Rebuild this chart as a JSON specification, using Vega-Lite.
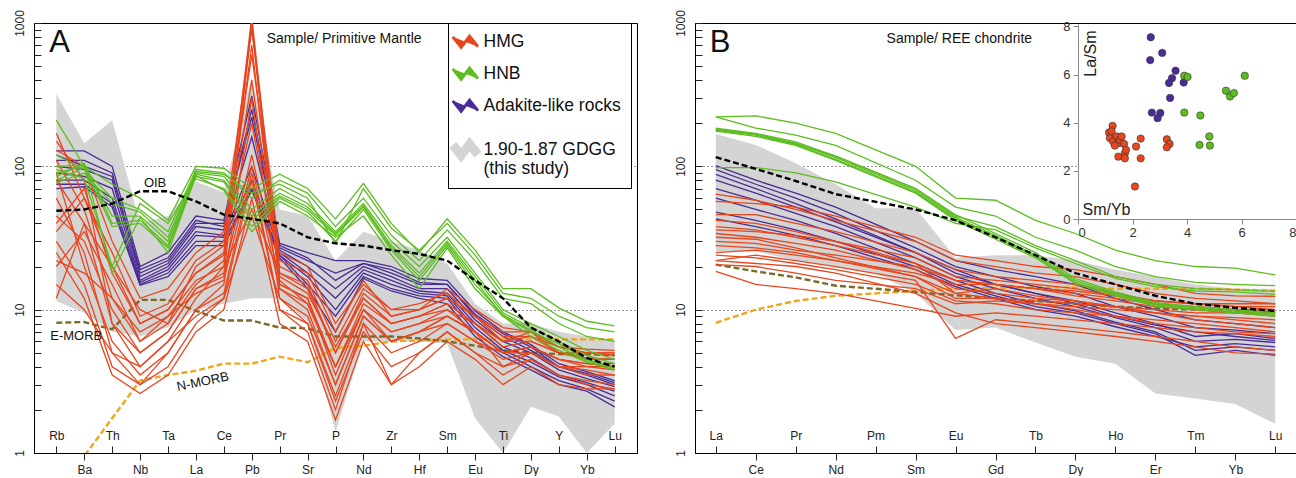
{
"$schema": "https://vega.github.io/schema/vega-lite/v6.json",
"padding": {"left": 12, "top": 9, "right": 0, "bottom": 0},
"background": "white",
"spacing": 35,
"config": {
  "font": "Liberation Sans",
  "view": {"stroke": "black", "strokeWidth": 1},
  "axis": {"labelFont": "Liberation Sans", "labelColor": "#222", "labelFontSize": 12, "domainColor": "black", "tickColor": "#222", "grid": false, "labelFlush": false, "labelOverlap": false}
},
"resolve": {"scale": {"color": "independent"}},
"datasets": {
"aF": [
{"e":"Rb","lo":11.5,"hi":320,"g":"F"},{"e":"Ba","lo":9.5,"hi":145,"g":"F"},{"e":"Th","lo":7,"hi":210,"g":"F"},{"e":"Nb","lo":6.5,"hi":40,"g":"F"},{"e":"Ta","lo":7.5,"hi":45,"g":"F"},{"e":"La","lo":10,"hi":78,"g":"F"},{"e":"Ce","lo":11,"hi":66,"g":"F"},{"e":"Pb","lo":12,"hi":420,"g":"F"},{"e":"Pr","lo":12,"hi":50,"g":"F"},{"e":"Sr","lo":8.3,"hi":45,"g":"F"},{"e":"P","lo":1.4,"hi":22,"g":"F"},{"e":"Nd","lo":6,"hi":35,"g":"F"},{"e":"Zr","lo":6,"hi":30,"g":"F"},{"e":"Hf","lo":6,"hi":26,"g":"F"},{"e":"Sm","lo":5.8,"hi":21,"g":"F"},{"e":"Eu","lo":1.75,"hi":11,"g":"F"},{"e":"Ti","lo":1,"hi":8,"g":"F"},{"e":"Dy","lo":2.1,"hi":8,"g":"F"},{"e":"Y","lo":1.8,"hi":7,"g":"F"},{"e":"Yb","lo":1,"hi":6.5,"g":"F"},{"e":"Lu","lo":1.6,"hi":6.2,"g":"F"}
],
"aO": [{"e":"Rb","v":49},{"e":"Ba","v":50},{"e":"Th","v":55},{"e":"Nb","v":67},{"e":"Ta","v":67},{"e":"La","v":57},{"e":"Ce","v":46},{"e":"Pb","v":43},{"e":"Pr","v":40},{"e":"Sr","v":32},{"e":"P","v":29},{"e":"Nd","v":28},{"e":"Zr","v":26},{"e":"Hf","v":24.5},{"e":"Sm","v":22},{"e":"Eu","v":16},{"e":"Ti","v":12},{"e":"Dy","v":7.5},{"e":"Y","v":6},{"e":"Yb","v":4.6},{"e":"Lu","v":4}],
"aE": [{"e":"Rb","v":8.1},{"e":"Ba","v":8.2},{"e":"Th","v":7.3},{"e":"Nb","v":11.7},{"e":"Ta","v":11.7},{"e":"La","v":9.8},{"e":"Ce","v":8.4},{"e":"Pb","v":8.4},{"e":"Pr","v":7.5},{"e":"Sr","v":7.4},{"e":"P","v":6.5},{"e":"Nd","v":6.5},{"e":"Zr","v":6.5},{"e":"Hf","v":6.3},{"e":"Sm","v":6},{"e":"Eu","v":5.6},{"e":"Ti","v":5.2},{"e":"Dy","v":5},{"e":"Y","v":4.9},{"e":"Yb","v":4.9},{"e":"Lu","v":4.8}],
"aN": [{"e":"Rb","v":0.55},{"e":"Ba","v":0.95},{"e":"Th","v":1.75},{"e":"Nb","v":3.2},{"e":"Ta","v":3.5},{"e":"La","v":3.75},{"e":"Ce","v":4.2},{"e":"Pb","v":4.2},{"e":"Pr","v":4.7},{"e":"Sr","v":4.3},{"e":"P","v":5.4},{"e":"Nd","v":5.6},{"e":"Zr","v":6},{"e":"Hf","v":6.1},{"e":"Sm","v":6.2},{"e":"Eu","v":6.2},{"e":"Ti","v":6.2},{"e":"Dy","v":6.2},{"e":"Y","v":6.2},{"e":"Yb","v":6.2},{"e":"Lu","v":6.2}],
"aS": [
{"s":1,"g":"K","e":"Rb","v":128},{"s":1,"g":"K","e":"Ba","v":128},{"s":1,"g":"K","e":"Th","v":100},{"s":1,"g":"K","e":"Nb","v":20},{"s":1,"g":"K","e":"Ta","v":25},{"s":1,"g":"K","e":"La","v":45},{"s":1,"g":"K","e":"Ce","v":42},{"s":1,"g":"K","e":"Pb","v":310},{"s":1,"g":"K","e":"Pr","v":29},{"s":1,"g":"K","e":"Sr","v":25},{"s":1,"g":"K","e":"P","v":22},{"s":1,"g":"K","e":"Nd","v":22},{"s":1,"g":"K","e":"Zr","v":20},{"s":1,"g":"K","e":"Hf","v":16.5},{"s":1,"g":"K","e":"Sm","v":16},{"s":1,"g":"K","e":"Eu","v":9.8},{"s":1,"g":"K","e":"Ti","v":7},{"s":1,"g":"K","e":"Dy","v":5.7},{"s":1,"g":"K","e":"Y","v":4.2},{"s":1,"g":"K","e":"Yb","v":3.7},{"s":1,"g":"K","e":"Lu","v":3.2},
{"s":2,"g":"K","e":"Rb","v":110},{"s":2,"g":"K","e":"Ba","v":110},{"s":2,"g":"K","e":"Th","v":90},{"s":2,"g":"K","e":"Nb","v":18},{"s":2,"g":"K","e":"Ta","v":22},{"s":2,"g":"K","e":"La","v":40},{"s":2,"g":"K","e":"Ce","v":40},{"s":2,"g":"K","e":"Pb","v":220},{"s":2,"g":"K","e":"Pr","v":27},{"s":2,"g":"K","e":"Sr","v":22},{"s":2,"g":"K","e":"P","v":18},{"s":2,"g":"K","e":"Nd","v":21},{"s":2,"g":"K","e":"Zr","v":18},{"s":2,"g":"K","e":"Hf","v":15},{"s":2,"g":"K","e":"Sm","v":15},{"s":2,"g":"K","e":"Eu","v":9},{"s":2,"g":"K","e":"Ti","v":6.5},{"s":2,"g":"K","e":"Dy","v":5.2},{"s":2,"g":"K","e":"Y","v":4},{"s":2,"g":"K","e":"Yb","v":3.5},{"s":2,"g":"K","e":"Lu","v":3},
{"s":3,"g":"K","e":"Rb","v":100},{"s":3,"g":"K","e":"Ba","v":95},{"s":3,"g":"K","e":"Th","v":80},{"s":3,"g":"K","e":"Nb","v":17},{"s":3,"g":"K","e":"Ta","v":21},{"s":3,"g":"K","e":"La","v":38},{"s":3,"g":"K","e":"Ce","v":36},{"s":3,"g":"K","e":"Pb","v":160},{"s":3,"g":"K","e":"Pr","v":26},{"s":3,"g":"K","e":"Sr","v":20},{"s":3,"g":"K","e":"P","v":14},{"s":3,"g":"K","e":"Nd","v":20},{"s":3,"g":"K","e":"Zr","v":17},{"s":3,"g":"K","e":"Hf","v":14},{"s":3,"g":"K","e":"Sm","v":14},{"s":3,"g":"K","e":"Eu","v":8.5},{"s":3,"g":"K","e":"Ti","v":6},{"s":3,"g":"K","e":"Dy","v":5},{"s":3,"g":"K","e":"Y","v":3.8},{"s":3,"g":"K","e":"Yb","v":3.3},{"s":3,"g":"K","e":"Lu","v":2.9},
{"s":4,"g":"K","e":"Rb","v":90},{"s":4,"g":"K","e":"Ba","v":85},{"s":4,"g":"K","e":"Th","v":70},{"s":4,"g":"K","e":"Nb","v":16},{"s":4,"g":"K","e":"Ta","v":20},{"s":4,"g":"K","e":"La","v":35},{"s":4,"g":"K","e":"Ce","v":33},{"s":4,"g":"K","e":"Pb","v":100},{"s":4,"g":"K","e":"Pr","v":25},{"s":4,"g":"K","e":"Sr","v":18},{"s":4,"g":"K","e":"P","v":12},{"s":4,"g":"K","e":"Nd","v":19},{"s":4,"g":"K","e":"Zr","v":16},{"s":4,"g":"K","e":"Hf","v":13.5},{"s":4,"g":"K","e":"Sm","v":13},{"s":4,"g":"K","e":"Eu","v":8},{"s":4,"g":"K","e":"Ti","v":5.5},{"s":4,"g":"K","e":"Dy","v":4.6},{"s":4,"g":"K","e":"Y","v":3.5},{"s":4,"g":"K","e":"Yb","v":3.1},{"s":4,"g":"K","e":"Lu","v":2.7},
{"s":5,"g":"K","e":"Rb","v":80},{"s":5,"g":"K","e":"Ba","v":80},{"s":5,"g":"K","e":"Th","v":60},{"s":5,"g":"K","e":"Nb","v":15.5},{"s":5,"g":"K","e":"Ta","v":19},{"s":5,"g":"K","e":"La","v":33},{"s":5,"g":"K","e":"Ce","v":32},{"s":5,"g":"K","e":"Pb","v":80},{"s":5,"g":"K","e":"Pr","v":24},{"s":5,"g":"K","e":"Sr","v":17},{"s":5,"g":"K","e":"P","v":10},{"s":5,"g":"K","e":"Nd","v":18},{"s":5,"g":"K","e":"Zr","v":15},{"s":5,"g":"K","e":"Hf","v":13},{"s":5,"g":"K","e":"Sm","v":12.5},{"s":5,"g":"K","e":"Eu","v":7.5},{"s":5,"g":"K","e":"Ti","v":5.2},{"s":5,"g":"K","e":"Dy","v":4.3},{"s":5,"g":"K","e":"Y","v":3.4},{"s":5,"g":"K","e":"Yb","v":3},{"s":5,"g":"K","e":"Lu","v":2.5},
{"s":6,"g":"K","e":"Rb","v":75},{"s":6,"g":"K","e":"Ba","v":75},{"s":6,"g":"K","e":"Th","v":55},{"s":6,"g":"K","e":"Nb","v":15},{"s":6,"g":"K","e":"Ta","v":18},{"s":6,"g":"K","e":"La","v":30},{"s":6,"g":"K","e":"Ce","v":30},{"s":6,"g":"K","e":"Pb","v":70},{"s":6,"g":"K","e":"Pr","v":24},{"s":6,"g":"K","e":"Sr","v":15},{"s":6,"g":"K","e":"P","v":9},{"s":6,"g":"K","e":"Nd","v":17},{"s":6,"g":"K","e":"Zr","v":14},{"s":6,"g":"K","e":"Hf","v":12.5},{"s":6,"g":"K","e":"Sm","v":12},{"s":6,"g":"K","e":"Eu","v":7},{"s":6,"g":"K","e":"Ti","v":5},{"s":6,"g":"K","e":"Dy","v":4},{"s":6,"g":"K","e":"Y","v":3.2},{"s":6,"g":"K","e":"Yb","v":2.8},{"s":6,"g":"K","e":"Lu","v":2.3},
{"s":7,"g":"K","e":"Rb","v":70},{"s":7,"g":"K","e":"Ba","v":72},{"s":7,"g":"K","e":"Th","v":52},{"s":7,"g":"K","e":"Nb","v":14.8},{"s":7,"g":"K","e":"Ta","v":17},{"s":7,"g":"K","e":"La","v":28},{"s":7,"g":"K","e":"Ce","v":28},{"s":7,"g":"K","e":"Pb","v":68},{"s":7,"g":"K","e":"Pr","v":23},{"s":7,"g":"K","e":"Sr","v":14},{"s":7,"g":"K","e":"P","v":7},{"s":7,"g":"K","e":"Nd","v":16.5},{"s":7,"g":"K","e":"Zr","v":13.5},{"s":7,"g":"K","e":"Hf","v":12},{"s":7,"g":"K","e":"Sm","v":11},{"s":7,"g":"K","e":"Eu","v":6.5},{"s":7,"g":"K","e":"Ti","v":4.7},{"s":7,"g":"K","e":"Dy","v":3.8},{"s":7,"g":"K","e":"Y","v":3},{"s":7,"g":"K","e":"Yb","v":2.7},{"s":7,"g":"K","e":"Lu","v":2.1},
{"s":8,"g":"K","e":"Rb","v":120},{"s":8,"g":"K","e":"Ba","v":100},{"s":8,"g":"K","e":"Th","v":85},{"s":8,"g":"K","e":"Nb","v":19},{"s":8,"g":"K","e":"Ta","v":23},{"s":8,"g":"K","e":"La","v":42},{"s":8,"g":"K","e":"Ce","v":38},{"s":8,"g":"K","e":"Pb","v":250},{"s":8,"g":"K","e":"Pr","v":28},{"s":8,"g":"K","e":"Sr","v":23},{"s":8,"g":"K","e":"P","v":16},{"s":8,"g":"K","e":"Nd","v":21},{"s":8,"g":"K","e":"Zr","v":19},{"s":8,"g":"K","e":"Hf","v":15.5},{"s":8,"g":"K","e":"Sm","v":15},{"s":8,"g":"K","e":"Eu","v":9.3},{"s":8,"g":"K","e":"Ti","v":6.8},{"s":8,"g":"K","e":"Dy","v":5.5},{"s":8,"g":"K","e":"Y","v":4},{"s":8,"g":"K","e":"Yb","v":3.6},{"s":8,"g":"K","e":"Lu","v":3.1},
{"s":9,"g":"M","e":"Rb","v":170},{"s":9,"g":"M","e":"Ba","v":60},{"s":9,"g":"M","e":"Th","v":20},{"s":9,"g":"M","e":"Nb","v":8},{"s":9,"g":"M","e":"Ta","v":10},{"s":9,"g":"M","e":"La","v":18},{"s":9,"g":"M","e":"Ce","v":25},{"s":9,"g":"M","e":"Pb","v":1100},{"s":9,"g":"M","e":"Pr","v":18},{"s":9,"g":"M","e":"Sr","v":15},{"s":9,"g":"M","e":"P","v":5},{"s":9,"g":"M","e":"Nd","v":12},{"s":9,"g":"M","e":"Zr","v":8},{"s":9,"g":"M","e":"Hf","v":9},{"s":9,"g":"M","e":"Sm","v":10},{"s":9,"g":"M","e":"Eu","v":8},{"s":9,"g":"M","e":"Ti","v":6},{"s":9,"g":"M","e":"Dy","v":6},{"s":9,"g":"M","e":"Y","v":5},{"s":9,"g":"M","e":"Yb","v":5},{"s":9,"g":"M","e":"Lu","v":5},
{"s":10,"g":"M","e":"Rb","v":130},{"s":10,"g":"M","e":"Ba","v":100},{"s":10,"g":"M","e":"Th","v":30},{"s":10,"g":"M","e":"Nb","v":12},{"s":10,"g":"M","e":"Ta","v":14},{"s":10,"g":"M","e":"La","v":25},{"s":10,"g":"M","e":"Ce","v":35},{"s":10,"g":"M","e":"Pb","v":900},{"s":10,"g":"M","e":"Pr","v":25},{"s":10,"g":"M","e":"Sr","v":20},{"s":10,"g":"M","e":"P","v":8},{"s":10,"g":"M","e":"Nd","v":15},{"s":10,"g":"M","e":"Zr","v":10},{"s":10,"g":"M","e":"Hf","v":10},{"s":10,"g":"M","e":"Sm","v":12},{"s":10,"g":"M","e":"Eu","v":9},{"s":10,"g":"M","e":"Ti","v":7},{"s":10,"g":"M","e":"Dy","v":7},{"s":10,"g":"M","e":"Y","v":5.5},{"s":10,"g":"M","e":"Yb","v":5},{"s":10,"g":"M","e":"Lu","v":4.8},
{"s":11,"g":"M","e":"Rb","v":110},{"s":11,"g":"M","e":"Ba","v":50},{"s":11,"g":"M","e":"Th","v":12},{"s":11,"g":"M","e":"Nb","v":6},{"s":11,"g":"M","e":"Ta","v":8},{"s":11,"g":"M","e":"La","v":15},{"s":11,"g":"M","e":"Ce","v":22},{"s":11,"g":"M","e":"Pb","v":700},{"s":11,"g":"M","e":"Pr","v":15},{"s":11,"g":"M","e":"Sr","v":12},{"s":11,"g":"M","e":"P","v":4},{"s":11,"g":"M","e":"Nd","v":10},{"s":11,"g":"M","e":"Zr","v":7},{"s":11,"g":"M","e":"Hf","v":8},{"s":11,"g":"M","e":"Sm","v":9},{"s":11,"g":"M","e":"Eu","v":7},{"s":11,"g":"M","e":"Ti","v":5},{"s":11,"g":"M","e":"Dy","v":5.5},{"s":11,"g":"M","e":"Y","v":4.5},{"s":11,"g":"M","e":"Yb","v":4.2},{"s":11,"g":"M","e":"Lu","v":4.2},
{"s":12,"g":"M","e":"Rb","v":80},{"s":12,"g":"M","e":"Ba","v":40},{"s":12,"g":"M","e":"Th","v":8},{"s":12,"g":"M","e":"Nb","v":4},{"s":12,"g":"M","e":"Ta","v":6},{"s":12,"g":"M","e":"La","v":12},{"s":12,"g":"M","e":"Ce","v":20},{"s":12,"g":"M","e":"Pb","v":1000},{"s":12,"g":"M","e":"Pr","v":14},{"s":12,"g":"M","e":"Sr","v":10},{"s":12,"g":"M","e":"P","v":3},{"s":12,"g":"M","e":"Nd","v":9},{"s":12,"g":"M","e":"Zr","v":6},{"s":12,"g":"M","e":"Hf","v":7},{"s":12,"g":"M","e":"Sm","v":8},{"s":12,"g":"M","e":"Eu","v":6},{"s":12,"g":"M","e":"Ti","v":5},{"s":12,"g":"M","e":"Dy","v":5},{"s":12,"g":"M","e":"Y","v":4},{"s":12,"g":"M","e":"Yb","v":4},{"s":12,"g":"M","e":"Lu","v":3.8},
{"s":13,"g":"M","e":"Rb","v":60},{"s":13,"g":"M","e":"Ba","v":25},{"s":13,"g":"M","e":"Th","v":5},{"s":13,"g":"M","e":"Nb","v":3},{"s":13,"g":"M","e":"Ta","v":5},{"s":13,"g":"M","e":"La","v":10},{"s":13,"g":"M","e":"Ce","v":15},{"s":13,"g":"M","e":"Pb","v":300},{"s":13,"g":"M","e":"Pr","v":12},{"s":13,"g":"M","e":"Sr","v":8},{"s":13,"g":"M","e":"P","v":2.5},{"s":13,"g":"M","e":"Nd","v":8},{"s":13,"g":"M","e":"Zr","v":5},{"s":13,"g":"M","e":"Hf","v":6},{"s":13,"g":"M","e":"Sm","v":8},{"s":13,"g":"M","e":"Eu","v":6},{"s":13,"g":"M","e":"Ti","v":4.5},{"s":13,"g":"M","e":"Dy","v":5},{"s":13,"g":"M","e":"Y","v":4},{"s":13,"g":"M","e":"Yb","v":3.8},{"s":13,"g":"M","e":"Lu","v":3.5},
{"s":14,"g":"M","e":"Rb","v":45},{"s":14,"g":"M","e":"Ba","v":30},{"s":14,"g":"M","e":"Th","v":10},{"s":14,"g":"M","e":"Nb","v":5},{"s":14,"g":"M","e":"Ta","v":7},{"s":14,"g":"M","e":"La","v":14},{"s":14,"g":"M","e":"Ce","v":18},{"s":14,"g":"M","e":"Pb","v":120},{"s":14,"g":"M","e":"Pr","v":16},{"s":14,"g":"M","e":"Sr","v":11},{"s":14,"g":"M","e":"P","v":4},{"s":14,"g":"M","e":"Nd","v":11},{"s":14,"g":"M","e":"Zr","v":8},{"s":14,"g":"M","e":"Hf","v":9},{"s":14,"g":"M","e":"Sm","v":11},{"s":14,"g":"M","e":"Eu","v":8},{"s":14,"g":"M","e":"Ti","v":5.5},{"s":14,"g":"M","e":"Dy","v":6},{"s":14,"g":"M","e":"Y","v":5},{"s":14,"g":"M","e":"Yb","v":4.5},{"s":14,"g":"M","e":"Lu","v":4.5},
{"s":15,"g":"M","e":"Rb","v":30},{"s":15,"g":"M","e":"Ba","v":15},{"s":15,"g":"M","e":"Th","v":4},{"s":15,"g":"M","e":"Nb","v":3},{"s":15,"g":"M","e":"Ta","v":4},{"s":15,"g":"M","e":"La","v":8},{"s":15,"g":"M","e":"Ce","v":12},{"s":15,"g":"M","e":"Pb","v":80},{"s":15,"g":"M","e":"Pr","v":10},{"s":15,"g":"M","e":"Sr","v":8},{"s":15,"g":"M","e":"P","v":2.3},{"s":15,"g":"M","e":"Nd","v":7},{"s":15,"g":"M","e":"Zr","v":4},{"s":15,"g":"M","e":"Hf","v":5},{"s":15,"g":"M","e":"Sm","v":7},{"s":15,"g":"M","e":"Eu","v":5},{"s":15,"g":"M","e":"Ti","v":4},{"s":15,"g":"M","e":"Dy","v":4.5},{"s":15,"g":"M","e":"Y","v":3.5},{"s":15,"g":"M","e":"Yb","v":3.2},{"s":15,"g":"M","e":"Lu","v":3},
{"s":16,"g":"M","e":"Rb","v":25},{"s":16,"g":"M","e":"Ba","v":12},{"s":16,"g":"M","e":"Th","v":3.5},{"s":16,"g":"M","e":"Nb","v":2.6},{"s":16,"g":"M","e":"Ta","v":3.5},{"s":16,"g":"M","e":"La","v":7},{"s":16,"g":"M","e":"Ce","v":10},{"s":16,"g":"M","e":"Pb","v":60},{"s":16,"g":"M","e":"Pr","v":8},{"s":16,"g":"M","e":"Sr","v":6},{"s":16,"g":"M","e":"P","v":1.7},{"s":16,"g":"M","e":"Nd","v":6},{"s":16,"g":"M","e":"Zr","v":3},{"s":16,"g":"M","e":"Hf","v":4},{"s":16,"g":"M","e":"Sm","v":6},{"s":16,"g":"M","e":"Eu","v":4.5},{"s":16,"g":"M","e":"Ti","v":3},{"s":16,"g":"M","e":"Dy","v":4},{"s":16,"g":"M","e":"Y","v":3},{"s":16,"g":"M","e":"Yb","v":2.8},{"s":16,"g":"M","e":"Lu","v":2.8},
{"s":17,"g":"M","e":"Rb","v":20},{"s":17,"g":"M","e":"Ba","v":35},{"s":17,"g":"M","e":"Th","v":15},{"s":17,"g":"M","e":"Nb","v":6},{"s":17,"g":"M","e":"Ta","v":9},{"s":17,"g":"M","e":"La","v":16},{"s":17,"g":"M","e":"Ce","v":20},{"s":17,"g":"M","e":"Pb","v":50},{"s":17,"g":"M","e":"Pr","v":18},{"s":17,"g":"M","e":"Sr","v":14},{"s":17,"g":"M","e":"P","v":5},{"s":17,"g":"M","e":"Nd","v":13},{"s":17,"g":"M","e":"Zr","v":9},{"s":17,"g":"M","e":"Hf","v":10},{"s":17,"g":"M","e":"Sm","v":12},{"s":17,"g":"M","e":"Eu","v":9},{"s":17,"g":"M","e":"Ti","v":6},{"s":17,"g":"M","e":"Dy","v":7},{"s":17,"g":"M","e":"Y","v":5},{"s":17,"g":"M","e":"Yb","v":5},{"s":17,"g":"M","e":"Lu","v":4.8},
{"s":18,"g":"M","e":"Rb","v":15},{"s":18,"g":"M","e":"Ba","v":10},{"s":18,"g":"M","e":"Th","v":5},{"s":18,"g":"M","e":"Nb","v":4},{"s":18,"g":"M","e":"Ta","v":6},{"s":18,"g":"M","e":"La","v":9},{"s":18,"g":"M","e":"Ce","v":12},{"s":18,"g":"M","e":"Pb","v":45},{"s":18,"g":"M","e":"Pr","v":12},{"s":18,"g":"M","e":"Sr","v":9},{"s":18,"g":"M","e":"P","v":3},{"s":18,"g":"M","e":"Nd","v":9},{"s":18,"g":"M","e":"Zr","v":6},{"s":18,"g":"M","e":"Hf","v":7},{"s":18,"g":"M","e":"Sm","v":9},{"s":18,"g":"M","e":"Eu","v":7},{"s":18,"g":"M","e":"Ti","v":5},{"s":18,"g":"M","e":"Dy","v":5.5},{"s":18,"g":"M","e":"Y","v":4.5},{"s":18,"g":"M","e":"Yb","v":4.2},{"s":18,"g":"M","e":"Lu","v":4},
{"s":19,"g":"M","e":"Rb","v":12},{"s":19,"g":"M","e":"Ba","v":40},{"s":19,"g":"M","e":"Th","v":20},{"s":19,"g":"M","e":"Nb","v":10},{"s":19,"g":"M","e":"Ta","v":8},{"s":19,"g":"M","e":"La","v":20},{"s":19,"g":"M","e":"Ce","v":28},{"s":19,"g":"M","e":"Pb","v":200},{"s":19,"g":"M","e":"Pr","v":20},{"s":19,"g":"M","e":"Sr","v":16},{"s":19,"g":"M","e":"P","v":6},{"s":19,"g":"M","e":"Nd","v":14},{"s":19,"g":"M","e":"Zr","v":10},{"s":19,"g":"M","e":"Hf","v":11},{"s":19,"g":"M","e":"Sm","v":13},{"s":19,"g":"M","e":"Eu","v":9},{"s":19,"g":"M","e":"Ti","v":6.5},{"s":19,"g":"M","e":"Dy","v":6.5},{"s":19,"g":"M","e":"Y","v":5.5},{"s":19,"g":"M","e":"Yb","v":5},{"s":19,"g":"M","e":"Lu","v":5},
{"s":20,"g":"M","e":"Rb","v":35},{"s":20,"g":"M","e":"Ba","v":60},{"s":20,"g":"M","e":"Th","v":25},{"s":20,"g":"M","e":"Nb","v":9},{"s":20,"g":"M","e":"Ta","v":11},{"s":20,"g":"M","e":"La","v":22},{"s":20,"g":"M","e":"Ce","v":30},{"s":20,"g":"M","e":"Pb","v":600},{"s":20,"g":"M","e":"Pr","v":22},{"s":20,"g":"M","e":"Sr","v":18},{"s":20,"g":"M","e":"P","v":7},{"s":20,"g":"M","e":"Nd","v":16},{"s":20,"g":"M","e":"Zr","v":9},{"s":20,"g":"M","e":"Hf","v":10},{"s":20,"g":"M","e":"Sm","v":14},{"s":20,"g":"M","e":"Eu","v":10},{"s":20,"g":"M","e":"Ti","v":7.5},{"s":20,"g":"M","e":"Dy","v":7},{"s":20,"g":"M","e":"Y","v":5.5},{"s":20,"g":"M","e":"Yb","v":5.3},{"s":20,"g":"M","e":"Lu","v":5.2},
{"s":21,"g":"M","e":"Rb","v":90},{"s":21,"g":"M","e":"Ba","v":20},{"s":21,"g":"M","e":"Th","v":6},{"s":21,"g":"M","e":"Nb","v":3.5},{"s":21,"g":"M","e":"Ta","v":5},{"s":21,"g":"M","e":"La","v":10},{"s":21,"g":"M","e":"Ce","v":13},{"s":21,"g":"M","e":"Pb","v":90},{"s":21,"g":"M","e":"Pr","v":10},{"s":21,"g":"M","e":"Sr","v":7},{"s":21,"g":"M","e":"P","v":2},{"s":21,"g":"M","e":"Nd","v":8},{"s":21,"g":"M","e":"Zr","v":3},{"s":21,"g":"M","e":"Hf","v":5},{"s":21,"g":"M","e":"Sm","v":7},{"s":21,"g":"M","e":"Eu","v":5},{"s":21,"g":"M","e":"Ti","v":3.5},{"s":21,"g":"M","e":"Dy","v":4.5},{"s":21,"g":"M","e":"Y","v":3.5},{"s":21,"g":"M","e":"Yb","v":3},{"s":21,"g":"M","e":"Lu","v":2.8},
{"s":22,"g":"M","e":"Rb","v":150},{"s":22,"g":"M","e":"Ba","v":80},{"s":22,"g":"M","e":"Th","v":8},{"s":22,"g":"M","e":"Nb","v":5},{"s":22,"g":"M","e":"Ta","v":7},{"s":22,"g":"M","e":"La","v":14},{"s":22,"g":"M","e":"Ce","v":17},{"s":22,"g":"M","e":"Pb","v":1000},{"s":22,"g":"M","e":"Pr","v":15},{"s":22,"g":"M","e":"Sr","v":12},{"s":22,"g":"M","e":"P","v":3.5},{"s":22,"g":"M","e":"Nd","v":10},{"s":22,"g":"M","e":"Zr","v":6},{"s":22,"g":"M","e":"Hf","v":7},{"s":22,"g":"M","e":"Sm","v":9},{"s":22,"g":"M","e":"Eu","v":7},{"s":22,"g":"M","e":"Ti","v":4},{"s":22,"g":"M","e":"Dy","v":5},{"s":22,"g":"M","e":"Y","v":4},{"s":22,"g":"M","e":"Yb","v":3.5},{"s":22,"g":"M","e":"Lu","v":3.5},
{"s":23,"g":"M","e":"Rb","v":22},{"s":23,"g":"M","e":"Ba","v":18},{"s":23,"g":"M","e":"Th","v":12},{"s":23,"g":"M","e":"Nb","v":7},{"s":23,"g":"M","e":"Ta","v":9},{"s":23,"g":"M","e":"La","v":13},{"s":23,"g":"M","e":"Ce","v":16},{"s":23,"g":"M","e":"Pb","v":100},{"s":23,"g":"M","e":"Pr","v":14},{"s":23,"g":"M","e":"Sr","v":11},{"s":23,"g":"M","e":"P","v":4},{"s":23,"g":"M","e":"Nd","v":10},{"s":23,"g":"M","e":"Zr","v":7},{"s":23,"g":"M","e":"Hf","v":8},{"s":23,"g":"M","e":"Sm","v":10},{"s":23,"g":"M","e":"Eu","v":7},{"s":23,"g":"M","e":"Ti","v":5},{"s":23,"g":"M","e":"Dy","v":5.5},{"s":23,"g":"M","e":"Y","v":4.5},{"s":23,"g":"M","e":"Yb","v":4},{"s":23,"g":"M","e":"Lu","v":4},
{"s":24,"g":"M","e":"Rb","v":40},{"s":24,"g":"M","e":"Ba","v":70},{"s":24,"g":"M","e":"Th","v":18},{"s":24,"g":"M","e":"Nb","v":8},{"s":24,"g":"M","e":"Ta","v":10},{"s":24,"g":"M","e":"La","v":18},{"s":24,"g":"M","e":"Ce","v":24},{"s":24,"g":"M","e":"Pb","v":400},{"s":24,"g":"M","e":"Pr","v":17},{"s":24,"g":"M","e":"Sr","v":13},{"s":24,"g":"M","e":"P","v":5.5},{"s":24,"g":"M","e":"Nd","v":12},{"s":24,"g":"M","e":"Zr","v":8},{"s":24,"g":"M","e":"Hf","v":9},{"s":24,"g":"M","e":"Sm","v":11},{"s":24,"g":"M","e":"Eu","v":8},{"s":24,"g":"M","e":"Ti","v":6},{"s":24,"g":"M","e":"Dy","v":6.5},{"s":24,"g":"M","e":"Y","v":5},{"s":24,"g":"M","e":"Yb","v":4.6},{"s":24,"g":"M","e":"Lu","v":4.5},
{"s":25,"g":"N","e":"Rb","v":210},{"s":25,"g":"N","e":"Ba","v":100},{"s":25,"g":"N","e":"Th","v":75},{"s":25,"g":"N","e":"Nb","v":60},{"s":25,"g":"N","e":"Ta","v":42},{"s":25,"g":"N","e":"La","v":100},{"s":25,"g":"N","e":"Ce","v":97},{"s":25,"g":"N","e":"Pb","v":70},{"s":25,"g":"N","e":"Pr","v":88},{"s":25,"g":"N","e":"Sr","v":70},{"s":25,"g":"N","e":"P","v":43},{"s":25,"g":"N","e":"Nd","v":76},{"s":25,"g":"N","e":"Zr","v":40},{"s":25,"g":"N","e":"Hf","v":25},{"s":25,"g":"N","e":"Sm","v":43},{"s":25,"g":"N","e":"Eu","v":26},{"s":25,"g":"N","e":"Ti","v":14},{"s":25,"g":"N","e":"Dy","v":14},{"s":25,"g":"N","e":"Y","v":10.3},{"s":25,"g":"N","e":"Yb","v":8.3},{"s":25,"g":"N","e":"Lu","v":7.7},
{"s":26,"g":"N","e":"Rb","v":120},{"s":26,"g":"N","e":"Ba","v":95},{"s":26,"g":"N","e":"Th","v":60},{"s":26,"g":"N","e":"Nb","v":50},{"s":26,"g":"N","e":"Ta","v":35},{"s":26,"g":"N","e":"La","v":95},{"s":26,"g":"N","e":"Ce","v":90},{"s":26,"g":"N","e":"Pb","v":60},{"s":26,"g":"N","e":"Pr","v":80},{"s":26,"g":"N","e":"Sr","v":65},{"s":26,"g":"N","e":"P","v":38},{"s":26,"g":"N","e":"Nd","v":60},{"s":26,"g":"N","e":"Zr","v":33},{"s":26,"g":"N","e":"Hf","v":22},{"s":26,"g":"N","e":"Sm","v":36},{"s":26,"g":"N","e":"Eu","v":22},{"s":26,"g":"N","e":"Ti","v":12},{"s":26,"g":"N","e":"Dy","v":11},{"s":26,"g":"N","e":"Y","v":8},{"s":26,"g":"N","e":"Yb","v":6.5},{"s":26,"g":"N","e":"Lu","v":6},
{"s":27,"g":"N","e":"Rb","v":90},{"s":27,"g":"N","e":"Ba","v":100},{"s":27,"g":"N","e":"Th","v":45},{"s":27,"g":"N","e":"Nb","v":45},{"s":27,"g":"N","e":"Ta","v":30},{"s":27,"g":"N","e":"La","v":90},{"s":27,"g":"N","e":"Ce","v":85},{"s":27,"g":"N","e":"Pb","v":50},{"s":27,"g":"N","e":"Pr","v":70},{"s":27,"g":"N","e":"Sr","v":55},{"s":27,"g":"N","e":"P","v":35},{"s":27,"g":"N","e":"Nd","v":55},{"s":27,"g":"N","e":"Zr","v":30},{"s":27,"g":"N","e":"Hf","v":20},{"s":27,"g":"N","e":"Sm","v":32},{"s":27,"g":"N","e":"Eu","v":18},{"s":27,"g":"N","e":"Ti","v":10},{"s":27,"g":"N","e":"Dy","v":8},{"s":27,"g":"N","e":"Y","v":6.5},{"s":27,"g":"N","e":"Yb","v":5.2},{"s":27,"g":"N","e":"Lu","v":4.5},
{"s":28,"g":"N","e":"Rb","v":85},{"s":28,"g":"N","e":"Ba","v":105},{"s":28,"g":"N","e":"Th","v":40},{"s":28,"g":"N","e":"Nb","v":42},{"s":28,"g":"N","e":"Ta","v":28},{"s":28,"g":"N","e":"La","v":88},{"s":28,"g":"N","e":"Ce","v":80},{"s":28,"g":"N","e":"Pb","v":45},{"s":28,"g":"N","e":"Pr","v":65},{"s":28,"g":"N","e":"Sr","v":52},{"s":28,"g":"N","e":"P","v":34},{"s":28,"g":"N","e":"Nd","v":53},{"s":28,"g":"N","e":"Zr","v":28},{"s":28,"g":"N","e":"Hf","v":18},{"s":28,"g":"N","e":"Sm","v":30},{"s":28,"g":"N","e":"Eu","v":17},{"s":28,"g":"N","e":"Ti","v":9.5},{"s":28,"g":"N","e":"Dy","v":7.5},{"s":28,"g":"N","e":"Y","v":6},{"s":28,"g":"N","e":"Yb","v":4.8},{"s":28,"g":"N","e":"Lu","v":4.2},
{"s":29,"g":"N","e":"Rb","v":80},{"s":29,"g":"N","e":"Ba","v":98},{"s":29,"g":"N","e":"Th","v":38},{"s":29,"g":"N","e":"Nb","v":40},{"s":29,"g":"N","e":"Ta","v":27},{"s":29,"g":"N","e":"La","v":85},{"s":29,"g":"N","e":"Ce","v":78},{"s":29,"g":"N","e":"Pb","v":42},{"s":29,"g":"N","e":"Pr","v":62},{"s":29,"g":"N","e":"Sr","v":50},{"s":29,"g":"N","e":"P","v":33},{"s":29,"g":"N","e":"Nd","v":52},{"s":29,"g":"N","e":"Zr","v":27},{"s":29,"g":"N","e":"Hf","v":17},{"s":29,"g":"N","e":"Sm","v":29},{"s":29,"g":"N","e":"Eu","v":16},{"s":29,"g":"N","e":"Ti","v":9},{"s":29,"g":"N","e":"Dy","v":7},{"s":29,"g":"N","e":"Y","v":5.8},{"s":29,"g":"N","e":"Yb","v":4.5},{"s":29,"g":"N","e":"Lu","v":4},
{"s":30,"g":"N","e":"Rb","v":95},{"s":30,"g":"N","e":"Ba","v":82},{"s":30,"g":"N","e":"Th","v":20},{"s":30,"g":"N","e":"Nb","v":55},{"s":30,"g":"N","e":"Ta","v":40},{"s":30,"g":"N","e":"La","v":82},{"s":30,"g":"N","e":"Ce","v":70},{"s":30,"g":"N","e":"Pb","v":38},{"s":30,"g":"N","e":"Pr","v":60},{"s":30,"g":"N","e":"Sr","v":48},{"s":30,"g":"N","e":"P","v":30},{"s":30,"g":"N","e":"Nd","v":50},{"s":30,"g":"N","e":"Zr","v":26},{"s":30,"g":"N","e":"Hf","v":16},{"s":30,"g":"N","e":"Sm","v":28},{"s":30,"g":"N","e":"Eu","v":15},{"s":30,"g":"N","e":"Ti","v":9.2},{"s":30,"g":"N","e":"Dy","v":7.2},{"s":30,"g":"N","e":"Y","v":5.5},{"s":30,"g":"N","e":"Yb","v":4.4},{"s":30,"g":"N","e":"Lu","v":3.9},
{"s":31,"g":"N","e":"Rb","v":77},{"s":31,"g":"N","e":"Ba","v":90},{"s":31,"g":"N","e":"Th","v":55},{"s":31,"g":"N","e":"Nb","v":48},{"s":31,"g":"N","e":"Ta","v":32},{"s":31,"g":"N","e":"La","v":92},{"s":31,"g":"N","e":"Ce","v":88},{"s":31,"g":"N","e":"Pb","v":65},{"s":31,"g":"N","e":"Pr","v":75},{"s":31,"g":"N","e":"Sr","v":60},{"s":31,"g":"N","e":"P","v":29},{"s":31,"g":"N","e":"Nd","v":70},{"s":31,"g":"N","e":"Zr","v":37},{"s":31,"g":"N","e":"Hf","v":26},{"s":31,"g":"N","e":"Sm","v":40},{"s":31,"g":"N","e":"Eu","v":24},{"s":31,"g":"N","e":"Ti","v":13},{"s":31,"g":"N","e":"Dy","v":12},{"s":31,"g":"N","e":"Y","v":9},{"s":31,"g":"N","e":"Yb","v":7.5},{"s":31,"g":"N","e":"Lu","v":7},
{"s":32,"g":"N","e":"Rb","v":100},{"s":32,"g":"N","e":"Ba","v":102},{"s":32,"g":"N","e":"Th","v":18},{"s":32,"g":"N","e":"Nb","v":44},{"s":32,"g":"N","e":"Ta","v":25},{"s":32,"g":"N","e":"La","v":86},{"s":32,"g":"N","e":"Ce","v":68},{"s":32,"g":"N","e":"Pb","v":35},{"s":32,"g":"N","e":"Pr","v":57},{"s":32,"g":"N","e":"Sr","v":45},{"s":32,"g":"N","e":"P","v":32},{"s":32,"g":"N","e":"Nd","v":45},{"s":32,"g":"N","e":"Zr","v":24},{"s":32,"g":"N","e":"Hf","v":14},{"s":32,"g":"N","e":"Sm","v":27},{"s":32,"g":"N","e":"Eu","v":14},{"s":32,"g":"N","e":"Ti","v":9},{"s":32,"g":"N","e":"Dy","v":6.5},{"s":32,"g":"N","e":"Y","v":5.2},{"s":32,"g":"N","e":"Yb","v":4.3},{"s":32,"g":"N","e":"Lu","v":3.8}
],
"bF": [
{"e":"La","lo":25.5,"hi":168,"g":"F"},{"e":"Ce","lo":25.5,"hi":141,"g":"F"},{"e":"Pr","lo":22,"hi":105,"g":"F"},{"e":"Nd","lo":20,"hi":75,"g":"F"},{"e":"Pm","lo":18,"hi":51,"g":"F"},{"e":"Sm","lo":13,"hi":51,"g":"F"},{"e":"Eu","lo":7.2,"hi":23,"g":"F"},{"e":"Gd","lo":7.5,"hi":24,"g":"F"},{"e":"Tb","lo":5.9,"hi":24,"g":"F"},{"e":"Dy","lo":4.7,"hi":22,"g":"F"},{"e":"Ho","lo":4.2,"hi":19,"g":"F"},{"e":"Er","lo":2.6,"hi":17,"g":"F"},{"e":"Tm","lo":2.4,"hi":15,"g":"F"},{"e":"Yb","lo":2.2,"hi":14,"g":"F"},{"e":"Lu","lo":1.6,"hi":14,"g":"F"}
],
"bO": [{"e":"La","v":116},{"e":"Ce","v":96},{"e":"Pr","v":79},{"e":"Nd","v":64},{"e":"Sm","v":50},{"e":"Eu","v":42},{"e":"Gd","v":32},{"e":"Tb","v":24},{"e":"Dy","v":18},{"e":"Ho","v":15},{"e":"Er","v":12.5},{"e":"Tm","v":11},{"e":"Yb","v":10.3},{"e":"Lu","v":9.8}],
"bE": [{"e":"La","v":20.6},{"e":"Ce","v":18.5},{"e":"Pr","v":16.8},{"e":"Nd","v":14.7},{"e":"Sm","v":13.3},{"e":"Eu","v":12.6},{"e":"Gd","v":12},{"e":"Tb","v":11.5},{"e":"Dy","v":11},{"e":"Ho","v":10.5},{"e":"Er","v":10.2},{"e":"Tm","v":10},{"e":"Yb","v":9.8},{"e":"Lu","v":9.6}],
"bN": [{"e":"La","v":8.1},{"e":"Ce","v":10},{"e":"Pr","v":11.5},{"e":"Nd","v":12.5},{"e":"Sm","v":13.5},{"e":"Eu","v":14},{"e":"Gd","v":14.2},{"e":"Tb","v":14.3},{"e":"Dy","v":14.3},{"e":"Ho","v":14},{"e":"Er","v":14},{"e":"Tm","v":14},{"e":"Yb","v":13.8},{"e":"Lu","v":13.5}],
"bS": [
{"s":1,"g":"K","e":"La","v":101},{"s":1,"g":"K","e":"Ce","v":80},{"s":1,"g":"K","e":"Pr","v":65},{"s":1,"g":"K","e":"Nd","v":52},{"s":1,"g":"K","e":"Sm","v":30},{"s":1,"g":"K","e":"Eu","v":22},{"s":1,"g":"K","e":"Gd","v":19},{"s":1,"g":"K","e":"Tb","v":17},{"s":1,"g":"K","e":"Dy","v":15},{"s":1,"g":"K","e":"Ho","v":12},{"s":1,"g":"K","e":"Er","v":10},{"s":1,"g":"K","e":"Tm","v":8.5},{"s":1,"g":"K","e":"Yb","v":8},{"s":1,"g":"K","e":"Lu","v":7.5},
{"s":2,"g":"K","e":"La","v":95},{"s":2,"g":"K","e":"Ce","v":75},{"s":2,"g":"K","e":"Pr","v":60},{"s":2,"g":"K","e":"Nd","v":47},{"s":2,"g":"K","e":"Sm","v":27},{"s":2,"g":"K","e":"Eu","v":20},{"s":2,"g":"K","e":"Gd","v":17},{"s":2,"g":"K","e":"Tb","v":14.5},{"s":2,"g":"K","e":"Dy","v":13},{"s":2,"g":"K","e":"Ho","v":10.5},{"s":2,"g":"K","e":"Er","v":9},{"s":2,"g":"K","e":"Tm","v":7.5},{"s":2,"g":"K","e":"Yb","v":7.2},{"s":2,"g":"K","e":"Lu","v":6.8},
{"s":3,"g":"K","e":"La","v":88},{"s":3,"g":"K","e":"Ce","v":70},{"s":3,"g":"K","e":"Pr","v":55},{"s":3,"g":"K","e":"Nd","v":43},{"s":3,"g":"K","e":"Sm","v":25},{"s":3,"g":"K","e":"Eu","v":19},{"s":3,"g":"K","e":"Gd","v":15},{"s":3,"g":"K","e":"Tb","v":13},{"s":3,"g":"K","e":"Dy","v":11.5},{"s":3,"g":"K","e":"Ho","v":9.5},{"s":3,"g":"K","e":"Er","v":8},{"s":3,"g":"K","e":"Tm","v":6.5},{"s":3,"g":"K","e":"Yb","v":6.8},{"s":3,"g":"K","e":"Lu","v":6.3},
{"s":4,"g":"K","e":"La","v":70},{"s":4,"g":"K","e":"Ce","v":58},{"s":4,"g":"K","e":"Pr","v":47},{"s":4,"g":"K","e":"Nd","v":38},{"s":4,"g":"K","e":"Sm","v":23},{"s":4,"g":"K","e":"Eu","v":17},{"s":4,"g":"K","e":"Gd","v":14},{"s":4,"g":"K","e":"Tb","v":12},{"s":4,"g":"K","e":"Dy","v":10.5},{"s":4,"g":"K","e":"Ho","v":8.8},{"s":4,"g":"K","e":"Er","v":7.5},{"s":4,"g":"K","e":"Tm","v":6},{"s":4,"g":"K","e":"Yb","v":6.2},{"s":4,"g":"K","e":"Lu","v":5.9},
{"s":5,"g":"K","e":"La","v":60},{"s":5,"g":"K","e":"Ce","v":50},{"s":5,"g":"K","e":"Pr","v":42},{"s":5,"g":"K","e":"Nd","v":34},{"s":5,"g":"K","e":"Sm","v":21},{"s":5,"g":"K","e":"Eu","v":16},{"s":5,"g":"K","e":"Gd","v":13},{"s":5,"g":"K","e":"Tb","v":11},{"s":5,"g":"K","e":"Dy","v":9.8},{"s":5,"g":"K","e":"Ho","v":8.2},{"s":5,"g":"K","e":"Er","v":7},{"s":5,"g":"K","e":"Tm","v":5.2},{"s":5,"g":"K","e":"Yb","v":5.5},{"s":5,"g":"K","e":"Lu","v":5.2},
{"s":6,"g":"K","e":"La","v":48},{"s":6,"g":"K","e":"Ce","v":42},{"s":6,"g":"K","e":"Pr","v":36},{"s":6,"g":"K","e":"Nd","v":30},{"s":6,"g":"K","e":"Sm","v":20},{"s":6,"g":"K","e":"Eu","v":15},{"s":6,"g":"K","e":"Gd","v":12.5},{"s":6,"g":"K","e":"Tb","v":10.5},{"s":6,"g":"K","e":"Dy","v":9.5},{"s":6,"g":"K","e":"Ho","v":8},{"s":6,"g":"K","e":"Er","v":6.8},{"s":6,"g":"K","e":"Tm","v":4.8},{"s":6,"g":"K","e":"Yb","v":5.2},{"s":6,"g":"K","e":"Lu","v":4.8},
{"s":7,"g":"K","e":"La","v":43},{"s":7,"g":"K","e":"Ce","v":38},{"s":7,"g":"K","e":"Pr","v":33},{"s":7,"g":"K","e":"Nd","v":28},{"s":7,"g":"K","e":"Sm","v":19},{"s":7,"g":"K","e":"Eu","v":14.5},{"s":7,"g":"K","e":"Gd","v":12},{"s":7,"g":"K","e":"Tb","v":10},{"s":7,"g":"K","e":"Dy","v":9},{"s":7,"g":"K","e":"Ho","v":7.6},{"s":7,"g":"K","e":"Er","v":6.5},{"s":7,"g":"K","e":"Tm","v":5.5},{"s":7,"g":"K","e":"Yb","v":5.8},{"s":7,"g":"K","e":"Lu","v":5.5},
{"s":8,"g":"K","e":"La","v":80},{"s":8,"g":"K","e":"Ce","v":65},{"s":8,"g":"K","e":"Pr","v":52},{"s":8,"g":"K","e":"Nd","v":41},{"s":8,"g":"K","e":"Sm","v":25},{"s":8,"g":"K","e":"Eu","v":18},{"s":8,"g":"K","e":"Gd","v":15},{"s":8,"g":"K","e":"Tb","v":13},{"s":8,"g":"K","e":"Dy","v":11},{"s":8,"g":"K","e":"Ho","v":9},{"s":8,"g":"K","e":"Er","v":7.8},{"s":8,"g":"K","e":"Tm","v":7},{"s":8,"g":"K","e":"Yb","v":6.5},{"s":8,"g":"K","e":"Lu","v":6.1},
{"s":9,"g":"M","e":"La","v":64},{"s":9,"g":"M","e":"Ce","v":58},{"s":9,"g":"M","e":"Pr","v":50},{"s":9,"g":"M","e":"Nd","v":42},{"s":9,"g":"M","e":"Sm","v":30},{"s":9,"g":"M","e":"Eu","v":22},{"s":9,"g":"M","e":"Gd","v":20},{"s":9,"g":"M","e":"Tb","v":18},{"s":9,"g":"M","e":"Dy","v":17},{"s":9,"g":"M","e":"Ho","v":15},{"s":9,"g":"M","e":"Er","v":13},{"s":9,"g":"M","e":"Tm","v":12},{"s":9,"g":"M","e":"Yb","v":11.5},{"s":9,"g":"M","e":"Lu","v":11},
{"s":10,"g":"M","e":"La","v":57},{"s":10,"g":"M","e":"Ce","v":55},{"s":10,"g":"M","e":"Pr","v":52},{"s":10,"g":"M","e":"Nd","v":45},{"s":10,"g":"M","e":"Sm","v":32},{"s":10,"g":"M","e":"Eu","v":24},{"s":10,"g":"M","e":"Gd","v":22},{"s":10,"g":"M","e":"Tb","v":20},{"s":10,"g":"M","e":"Dy","v":19},{"s":10,"g":"M","e":"Ho","v":17},{"s":10,"g":"M","e":"Er","v":15},{"s":10,"g":"M","e":"Tm","v":13},{"s":10,"g":"M","e":"Yb","v":12.5},{"s":10,"g":"M","e":"Lu","v":12.4},
{"s":11,"g":"M","e":"La","v":46},{"s":11,"g":"M","e":"Ce","v":46},{"s":11,"g":"M","e":"Pr","v":40},{"s":11,"g":"M","e":"Nd","v":35},{"s":11,"g":"M","e":"Sm","v":25},{"s":11,"g":"M","e":"Eu","v":19},{"s":11,"g":"M","e":"Gd","v":17},{"s":11,"g":"M","e":"Tb","v":16},{"s":11,"g":"M","e":"Dy","v":15},{"s":11,"g":"M","e":"Ho","v":13},{"s":11,"g":"M","e":"Er","v":11.5},{"s":11,"g":"M","e":"Tm","v":11},{"s":11,"g":"M","e":"Yb","v":10.5},{"s":11,"g":"M","e":"Lu","v":10.5},
{"s":12,"g":"M","e":"La","v":38},{"s":12,"g":"M","e":"Ce","v":36},{"s":12,"g":"M","e":"Pr","v":32},{"s":12,"g":"M","e":"Nd","v":28},{"s":12,"g":"M","e":"Sm","v":21},{"s":12,"g":"M","e":"Eu","v":16},{"s":12,"g":"M","e":"Gd","v":15},{"s":12,"g":"M","e":"Tb","v":14},{"s":12,"g":"M","e":"Dy","v":13},{"s":12,"g":"M","e":"Ho","v":12},{"s":12,"g":"M","e":"Er","v":11},{"s":12,"g":"M","e":"Tm","v":10.5},{"s":12,"g":"M","e":"Yb","v":10},{"s":12,"g":"M","e":"Lu","v":10},
{"s":13,"g":"M","e":"La","v":34},{"s":13,"g":"M","e":"Ce","v":32},{"s":13,"g":"M","e":"Pr","v":29},{"s":13,"g":"M","e":"Nd","v":26},{"s":13,"g":"M","e":"Sm","v":19},{"s":13,"g":"M","e":"Eu","v":14},{"s":13,"g":"M","e":"Gd","v":13},{"s":13,"g":"M","e":"Tb","v":12},{"s":13,"g":"M","e":"Dy","v":11.5},{"s":13,"g":"M","e":"Ho","v":10.5},{"s":13,"g":"M","e":"Er","v":9.5},{"s":13,"g":"M","e":"Tm","v":9},{"s":13,"g":"M","e":"Yb","v":8.8},{"s":13,"g":"M","e":"Lu","v":8.5},
{"s":14,"g":"M","e":"La","v":32},{"s":14,"g":"M","e":"Ce","v":31},{"s":14,"g":"M","e":"Pr","v":27},{"s":14,"g":"M","e":"Nd","v":23},{"s":14,"g":"M","e":"Sm","v":17},{"s":14,"g":"M","e":"Eu","v":12},{"s":14,"g":"M","e":"Gd","v":12},{"s":14,"g":"M","e":"Tb","v":11},{"s":14,"g":"M","e":"Dy","v":10},{"s":14,"g":"M","e":"Ho","v":9},{"s":14,"g":"M","e":"Er","v":8.5},{"s":14,"g":"M","e":"Tm","v":8},{"s":14,"g":"M","e":"Yb","v":7.5},{"s":14,"g":"M","e":"Lu","v":7},
{"s":15,"g":"M","e":"La","v":25},{"s":15,"g":"M","e":"Ce","v":26},{"s":15,"g":"M","e":"Pr","v":24},{"s":15,"g":"M","e":"Nd","v":22},{"s":15,"g":"M","e":"Sm","v":18},{"s":15,"g":"M","e":"Eu","v":15},{"s":15,"g":"M","e":"Gd","v":15},{"s":15,"g":"M","e":"Tb","v":14},{"s":15,"g":"M","e":"Dy","v":13.5},{"s":15,"g":"M","e":"Ho","v":12.5},{"s":15,"g":"M","e":"Er","v":11.5},{"s":15,"g":"M","e":"Tm","v":11},{"s":15,"g":"M","e":"Yb","v":11},{"s":15,"g":"M","e":"Lu","v":11},
{"s":16,"g":"M","e":"La","v":22},{"s":16,"g":"M","e":"Ce","v":24},{"s":16,"g":"M","e":"Pr","v":22},{"s":16,"g":"M","e":"Nd","v":20},{"s":16,"g":"M","e":"Sm","v":16},{"s":16,"g":"M","e":"Eu","v":6.3},{"s":16,"g":"M","e":"Gd","v":8.5},{"s":16,"g":"M","e":"Tb","v":8},{"s":16,"g":"M","e":"Dy","v":7.5},{"s":16,"g":"M","e":"Ho","v":7},{"s":16,"g":"M","e":"Er","v":6.5},{"s":16,"g":"M","e":"Tm","v":6},{"s":16,"g":"M","e":"Yb","v":5.5},{"s":16,"g":"M","e":"Lu","v":5.2},
{"s":17,"g":"M","e":"La","v":20.6},{"s":17,"g":"M","e":"Ce","v":20},{"s":17,"g":"M","e":"Pr","v":18},{"s":17,"g":"M","e":"Nd","v":16},{"s":17,"g":"M","e":"Sm","v":14},{"s":17,"g":"M","e":"Eu","v":11},{"s":17,"g":"M","e":"Gd","v":11.5},{"s":17,"g":"M","e":"Tb","v":11},{"s":17,"g":"M","e":"Dy","v":10.5},{"s":17,"g":"M","e":"Ho","v":10},{"s":17,"g":"M","e":"Er","v":9.5},{"s":17,"g":"M","e":"Tm","v":9},{"s":17,"g":"M","e":"Yb","v":8.5},{"s":17,"g":"M","e":"Lu","v":8},
{"s":18,"g":"M","e":"La","v":18.5},{"s":18,"g":"M","e":"Ce","v":15},{"s":18,"g":"M","e":"Pr","v":14},{"s":18,"g":"M","e":"Nd","v":13},{"s":18,"g":"M","e":"Sm","v":10.2},{"s":18,"g":"M","e":"Eu","v":9},{"s":18,"g":"M","e":"Gd","v":9.5},{"s":18,"g":"M","e":"Tb","v":9},{"s":18,"g":"M","e":"Dy","v":8.5},{"s":18,"g":"M","e":"Ho","v":8},{"s":18,"g":"M","e":"Er","v":7.5},{"s":18,"g":"M","e":"Tm","v":7},{"s":18,"g":"M","e":"Yb","v":6.8},{"s":18,"g":"M","e":"Lu","v":6.5},
{"s":19,"g":"M","e":"La","v":28},{"s":19,"g":"M","e":"Ce","v":27},{"s":19,"g":"M","e":"Pr","v":25},{"s":19,"g":"M","e":"Nd","v":22},{"s":19,"g":"M","e":"Sm","v":17},{"s":19,"g":"M","e":"Eu","v":13},{"s":19,"g":"M","e":"Gd","v":12},{"s":19,"g":"M","e":"Tb","v":11.5},{"s":19,"g":"M","e":"Dy","v":11},{"s":19,"g":"M","e":"Ho","v":10.5},{"s":19,"g":"M","e":"Er","v":10},{"s":19,"g":"M","e":"Tm","v":9.5},{"s":19,"g":"M","e":"Yb","v":9.5},{"s":19,"g":"M","e":"Lu","v":9.5},
{"s":20,"g":"M","e":"La","v":42},{"s":20,"g":"M","e":"Ce","v":40},{"s":20,"g":"M","e":"Pr","v":35},{"s":20,"g":"M","e":"Nd","v":30},{"s":20,"g":"M","e":"Sm","v":21},{"s":20,"g":"M","e":"Eu","v":13},{"s":20,"g":"M","e":"Gd","v":14},{"s":20,"g":"M","e":"Tb","v":12.5},{"s":20,"g":"M","e":"Dy","v":11.5},{"s":20,"g":"M","e":"Ho","v":10.5},{"s":20,"g":"M","e":"Er","v":9.5},{"s":20,"g":"M","e":"Tm","v":8.5},{"s":20,"g":"M","e":"Yb","v":8},{"s":20,"g":"M","e":"Lu","v":7.5},
{"s":21,"g":"M","e":"La","v":36},{"s":21,"g":"M","e":"Ce","v":35},{"s":21,"g":"M","e":"Pr","v":33},{"s":21,"g":"M","e":"Nd","v":30},{"s":21,"g":"M","e":"Sm","v":23},{"s":21,"g":"M","e":"Eu","v":17},{"s":21,"g":"M","e":"Gd","v":16},{"s":21,"g":"M","e":"Tb","v":15},{"s":21,"g":"M","e":"Dy","v":14},{"s":21,"g":"M","e":"Ho","v":12.5},{"s":21,"g":"M","e":"Er","v":11.5},{"s":21,"g":"M","e":"Tm","v":11},{"s":21,"g":"M","e":"Yb","v":10.5},{"s":21,"g":"M","e":"Lu","v":10},
{"s":22,"g":"M","e":"La","v":24},{"s":22,"g":"M","e":"Ce","v":23},{"s":22,"g":"M","e":"Pr","v":21},{"s":22,"g":"M","e":"Nd","v":19},{"s":22,"g":"M","e":"Sm","v":15},{"s":22,"g":"M","e":"Eu","v":11.5},{"s":22,"g":"M","e":"Gd","v":11},{"s":22,"g":"M","e":"Tb","v":10},{"s":22,"g":"M","e":"Dy","v":9.5},{"s":22,"g":"M","e":"Ho","v":9},{"s":22,"g":"M","e":"Er","v":8},{"s":22,"g":"M","e":"Tm","v":7.5},{"s":22,"g":"M","e":"Yb","v":7},{"s":22,"g":"M","e":"Lu","v":6.8},
{"s":23,"g":"M","e":"La","v":30},{"s":23,"g":"M","e":"Ce","v":29},{"s":23,"g":"M","e":"Pr","v":26},{"s":23,"g":"M","e":"Nd","v":24},{"s":23,"g":"M","e":"Sm","v":20},{"s":23,"g":"M","e":"Eu","v":16},{"s":23,"g":"M","e":"Gd","v":15},{"s":23,"g":"M","e":"Tb","v":14},{"s":23,"g":"M","e":"Dy","v":12.5},{"s":23,"g":"M","e":"Ho","v":11.5},{"s":23,"g":"M","e":"Er","v":10.5},{"s":23,"g":"M","e":"Tm","v":10},{"s":23,"g":"M","e":"Yb","v":9.5},{"s":23,"g":"M","e":"Lu","v":9},
{"s":24,"g":"M","e":"La","v":22},{"s":24,"g":"M","e":"Ce","v":21},{"s":24,"g":"M","e":"Pr","v":20},{"s":24,"g":"M","e":"Nd","v":18},{"s":24,"g":"M","e":"Sm","v":13},{"s":24,"g":"M","e":"Eu","v":9.5},{"s":24,"g":"M","e":"Gd","v":8},{"s":24,"g":"M","e":"Tb","v":7.5},{"s":24,"g":"M","e":"Dy","v":7},{"s":24,"g":"M","e":"Ho","v":6.5},{"s":24,"g":"M","e":"Er","v":6},{"s":24,"g":"M","e":"Tm","v":5.5},{"s":24,"g":"M","e":"Yb","v":5},{"s":24,"g":"M","e":"Lu","v":4.9},
{"s":25,"g":"N","e":"La","v":221},{"s":25,"g":"N","e":"Ce","v":225},{"s":25,"g":"N","e":"Pr","v":200},{"s":25,"g":"N","e":"Nd","v":170},{"s":25,"g":"N","e":"Sm","v":100},{"s":25,"g":"N","e":"Eu","v":60},{"s":25,"g":"N","e":"Gd","v":58},{"s":25,"g":"N","e":"Tb","v":42},{"s":25,"g":"N","e":"Dy","v":34},{"s":25,"g":"N","e":"Ho","v":26},{"s":25,"g":"N","e":"Er","v":22},{"s":25,"g":"N","e":"Tm","v":20},{"s":25,"g":"N","e":"Yb","v":19.5},{"s":25,"g":"N","e":"Lu","v":17.5},
{"s":26,"g":"N","e":"La","v":221},{"s":26,"g":"N","e":"Ce","v":185},{"s":26,"g":"N","e":"Pr","v":165},{"s":26,"g":"N","e":"Nd","v":140},{"s":26,"g":"N","e":"Sm","v":80},{"s":26,"g":"N","e":"Eu","v":52},{"s":26,"g":"N","e":"Gd","v":45},{"s":26,"g":"N","e":"Tb","v":32},{"s":26,"g":"N","e":"Dy","v":26},{"s":26,"g":"N","e":"Ho","v":20},{"s":26,"g":"N","e":"Er","v":17},{"s":26,"g":"N","e":"Tm","v":15.5},{"s":26,"g":"N","e":"Yb","v":15},{"s":26,"g":"N","e":"Lu","v":14.7},
{"s":27,"g":"N","e":"La","v":180},{"s":27,"g":"N","e":"Ce","v":168},{"s":27,"g":"N","e":"Pr","v":143},{"s":27,"g":"N","e":"Nd","v":118},{"s":27,"g":"N","e":"Sm","v":70},{"s":27,"g":"N","e":"Eu","v":45},{"s":27,"g":"N","e":"Gd","v":38},{"s":27,"g":"N","e":"Tb","v":28},{"s":27,"g":"N","e":"Dy","v":22},{"s":27,"g":"N","e":"Ho","v":17},{"s":27,"g":"N","e":"Er","v":15},{"s":27,"g":"N","e":"Tm","v":14},{"s":27,"g":"N","e":"Yb","v":13.8},{"s":27,"g":"N","e":"Lu","v":13.4},
{"s":28,"g":"N","e":"La","v":98},{"s":28,"g":"N","e":"Ce","v":98},{"s":28,"g":"N","e":"Pr","v":90},{"s":28,"g":"N","e":"Nd","v":78},{"s":28,"g":"N","e":"Sm","v":52},{"s":28,"g":"N","e":"Eu","v":40},{"s":28,"g":"N","e":"Gd","v":36},{"s":28,"g":"N","e":"Tb","v":27},{"s":28,"g":"N","e":"Dy","v":21},{"s":28,"g":"N","e":"Ho","v":16.5},{"s":28,"g":"N","e":"Er","v":14.5},{"s":28,"g":"N","e":"Tm","v":13.5},{"s":28,"g":"N","e":"Yb","v":13.3},{"s":28,"g":"N","e":"Lu","v":12.8},
{"s":29,"g":"N","e":"La","v":182},{"s":29,"g":"N","e":"Ce","v":168},{"s":29,"g":"N","e":"Pr","v":145},{"s":29,"g":"N","e":"Nd","v":115},{"s":29,"g":"N","e":"Sm","v":68},{"s":29,"g":"N","e":"Eu","v":44},{"s":29,"g":"N","e":"Gd","v":33},{"s":29,"g":"N","e":"Tb","v":24},{"s":29,"g":"N","e":"Dy","v":16},{"s":29,"g":"N","e":"Ho","v":13},{"s":29,"g":"N","e":"Er","v":11},{"s":29,"g":"N","e":"Tm","v":10.3},{"s":29,"g":"N","e":"Yb","v":9.8},{"s":29,"g":"N","e":"Lu","v":9.3},
{"s":30,"g":"N","e":"La","v":178},{"s":30,"g":"N","e":"Ce","v":165},{"s":30,"g":"N","e":"Pr","v":142},{"s":30,"g":"N","e":"Nd","v":112},{"s":30,"g":"N","e":"Sm","v":66},{"s":30,"g":"N","e":"Eu","v":43},{"s":30,"g":"N","e":"Gd","v":32},{"s":30,"g":"N","e":"Tb","v":23.5},{"s":30,"g":"N","e":"Dy","v":15.5},{"s":30,"g":"N","e":"Ho","v":12.7},{"s":30,"g":"N","e":"Er","v":10.8},{"s":30,"g":"N","e":"Tm","v":10.1},{"s":30,"g":"N","e":"Yb","v":9.6},{"s":30,"g":"N","e":"Lu","v":9.1},
{"s":31,"g":"N","e":"La","v":176},{"s":31,"g":"N","e":"Ce","v":162},{"s":31,"g":"N","e":"Pr","v":140},{"s":31,"g":"N","e":"Nd","v":110},{"s":31,"g":"N","e":"Sm","v":65},{"s":31,"g":"N","e":"Eu","v":42},{"s":31,"g":"N","e":"Gd","v":31},{"s":31,"g":"N","e":"Tb","v":23},{"s":31,"g":"N","e":"Dy","v":15.2},{"s":31,"g":"N","e":"Ho","v":12.5},{"s":31,"g":"N","e":"Er","v":10.6},{"s":31,"g":"N","e":"Tm","v":10},{"s":31,"g":"N","e":"Yb","v":9.5},{"s":31,"g":"N","e":"Lu","v":9},
{"s":32,"g":"N","e":"La","v":185},{"s":32,"g":"N","e":"Ce","v":170},{"s":32,"g":"N","e":"Pr","v":148},{"s":32,"g":"N","e":"Nd","v":118},{"s":32,"g":"N","e":"Sm","v":70},{"s":32,"g":"N","e":"Eu","v":46},{"s":32,"g":"N","e":"Gd","v":34},{"s":32,"g":"N","e":"Tb","v":25},{"s":32,"g":"N","e":"Dy","v":16.5},{"s":32,"g":"N","e":"Ho","v":13.3},{"s":32,"g":"N","e":"Er","v":11.2},{"s":32,"g":"N","e":"Tm","v":10.5},{"s":32,"g":"N","e":"Yb","v":10},{"s":32,"g":"N","e":"Lu","v":9.5}
],
"ins": [
{"g":"K","x":2.67,"y":7.55},{"g":"K","x":2.65,"y":6.6},{"g":"K","x":3.09,"y":6.9},{"g":"K","x":3.58,"y":6.16},{"g":"K","x":3.45,"y":5.85},{"g":"K","x":3.34,"y":5.65},{"g":"K","x":3.88,"y":5.67},{"g":"K","x":3.38,"y":5.03},{"g":"K","x":2.71,"y":4.42},{"g":"K","x":3.02,"y":4.4},{"g":"K","x":2.92,"y":4.19},
{"g":"N","x":3.9,"y":5.95},{"g":"N","x":4.02,"y":5.9},{"g":"N","x":6.12,"y":5.95},{"g":"N","x":5.43,"y":5.33},{"g":"N","x":5.58,"y":5.09},{"g":"N","x":5.72,"y":5.23},{"g":"N","x":3.9,"y":4.42},{"g":"N","x":4.49,"y":4.3},{"g":"N","x":4.82,"y":3.43},{"g":"N","x":4.46,"y":3.08},{"g":"N","x":4.84,"y":3.05},
{"g":"M","x":1.27,"y":3.87},{"g":"M","x":1.14,"y":3.59},{"g":"M","x":1.17,"y":3.36},{"g":"M","x":1.29,"y":3.22},{"g":"M","x":1.42,"y":3.43},{"g":"M","x":1.48,"y":3.15},{"g":"M","x":1.54,"y":3.29},{"g":"M","x":1.69,"y":3.12},{"g":"M","x":1.35,"y":3.05},{"g":"M","x":1.48,"y":2.59},{"g":"M","x":1.72,"y":2.73},{"g":"M","x":1.72,"y":2.52},{"g":"M","x":1.76,"y":2.87},{"g":"M","x":2.13,"y":3.01},{"g":"M","x":2.3,"y":3.34},{"g":"M","x":2.3,"y":2.52},{"g":"M","x":2.09,"y":1.35},{"g":"M","x":3.26,"y":3.31},{"g":"M","x":3.36,"y":3.12},{"g":"M","x":3.26,"y":2.98},{"g":"M","x":1.23,"y":3.64},{"g":"M","x":1.6,"y":3.43}
],
"insbg": [{"x0":0,"x1":8,"y0":0,"y1":8.1}]
},
"hconcat": [
{
"width": 603, "height": 430,
"resolve": {"axis": {"x": "independent"}},
"layer": [
{
"data": {"name": "aF"},
"mark": {"type": "area", "clip": true},
"encoding": {
"x": {"field": "e", "type": "ordinal", "sort": ["Rb","Ba","Th","Nb","Ta","La","Ce","Pb","Pr","Sr","P","Nd","Zr","Hf","Sm","Eu","Ti","Dy","Y","Yb","Lu"], "scale": {"type": "point", "padding": 0.8, "domain": ["Rb","Ba","Th","Nb","Ta","La","Ce","Pb","Pr","Sr","P","Nd","Zr","Hf","Sm","Eu","Ti","Dy","Y","Yb","Lu"]},
  "axis": {"orient": "bottom", "values": ["Ba","Nb","La","Pb","Sr","Nd","Hf","Eu","Dy","Yb"], "tickSize": 7, "labelPadding": 4, "labelAngle": 0, "title": null, "zindex": 1}},
"y": {"field": "hi", "type": "quantitative", "scale": {"type": "log", "domain": [1, 1000], "nice": false},
  "axis": {"orient": "left", "values": [1,2,3,4,5,6,7,8,9,10,20,30,40,50,60,70,80,90,100,200,300,400,500,600,700,800,900,1000], "labelExpr": "datum.value == 1 || datum.value == 10 || datum.value == 100 || datum.value == 1000 ? datum.value + '' : ''", "labelAngle": -90, "labelAlign": "center", "labelBaseline": "bottom", "tickSize": -7, "labelPadding": 15, "title": null, "grid": true, "gridDash": [1, 3], "gridColor": "#333", "gridOpacity": {"condition": {"test": "datum.value == 10 || datum.value == 100", "value": 1}, "value": 0}}},
"y2": {"field": "lo"},
"color": {"field": "g", "type": "nominal", "scale": {"domain": ["M","N","K","F"], "range": ["#e8461f","#5cbd1f","#4b2c97","#d4d4d4"]},
  "legend": {"orient": "none", "legendX": 414, "legendY": 0, "title": null, "direction": "vertical", "strokeColor": "black", "fillColor": "white", "padding": 10,
    "symbolType": "M-1,-0.35L-0.4,0.4L0.2,-0.4L0.8,0.35", "symbolSize": 784, "symbolStrokeWidth": 3,
    "labelFontSize": 17.5, "labelFont": "Liberation Sans", "labelColor": "#111", "labelOffset": 8, "rowPadding": 8, "labelLimit": 300,
    "labelExpr": "datum.value === 'M' ? 'HMG' : datum.value === 'N' ? 'HNB' : datum.value === 'K' ? 'Adakite-like rocks' : ['1.90-1.87 GDGG', '(this study)']",
    "encode": {"symbols": {"update": {
      "fill": {"value": "transparent"},
      "stroke": {"signal": "datum.value === 'M' ? '#e8461f' : datum.value === 'N' ? '#5cbd1f' : datum.value === 'K' ? '#4b2c97' : '#d4d4d4'"},
      "strokeWidth": {"signal": "datum.value === 'F' ? 9 : 3"},
      "opacity": {"value": 1}}}}}}
}
},
{
"data": {"name": "aN"},
"mark": {"type": "line", "stroke": "#f0a51e", "strokeDash": [6, 3], "strokeWidth": 2.4, "clip": true},
"encoding": {"x": {"field": "e", "type": "ordinal", "sort": ["Rb","Ba","Th","Nb","Ta","La","Ce","Pb","Pr","Sr","P","Nd","Zr","Hf","Sm","Eu","Ti","Dy","Y","Yb","Lu"], "axis": null}, "y": {"field": "v", "type": "quantitative"}}
},
{
"data": {"name": "aE"},
"mark": {"type": "line", "stroke": "#7a6a2a", "strokeDash": [6, 3], "strokeWidth": 2.4, "clip": true},
"encoding": {"x": {"field": "e", "type": "ordinal", "sort": ["Rb","Ba","Th","Nb","Ta","La","Ce","Pb","Pr","Sr","P","Nd","Zr","Hf","Sm","Eu","Ti","Dy","Y","Yb","Lu"], "axis": null}, "y": {"field": "v", "type": "quantitative"}}
},
{
"data": {"name": "aS"},
"mark": {"type": "line", "strokeWidth": 1.3, "clip": true},
"encoding": {
"x": {"field": "e", "type": "ordinal", "sort": ["Rb","Ba","Th","Nb","Ta","La","Ce","Pb","Pr","Sr","P","Nd","Zr","Hf","Sm","Eu","Ti","Dy","Y","Yb","Lu"],
  "axis": {"orient": "bottom", "values": ["Rb","Th","Ta","Ce","Pr","P","Zr","Sm","Ti","Y","Lu"], "tickSize": -7, "labelPadding": -16, "labelAngle": 0, "title": null, "zindex": 1}},
"y": {"field": "v", "type": "quantitative"},
"color": {"field": "g", "type": "nominal"},
"detail": {"field": "s", "type": "nominal"}
}
},
{
"data": {"name": "aO"},
"mark": {"type": "line", "stroke": "black", "strokeDash": [6, 3], "strokeWidth": 2.4, "clip": true},
"encoding": {"x": {"field": "e", "type": "ordinal", "sort": ["Rb","Ba","Th","Nb","Ta","La","Ce","Pb","Pr","Sr","P","Nd","Zr","Hf","Sm","Eu","Ti","Dy","Y","Yb","Lu"], "axis": null}, "y": {"field": "v", "type": "quantitative"}}
},
{
"data": {"values": [{"e": "Rb", "v": 731, "t": "A"}]},
"mark": {"type": "text", "align": "left", "baseline": "middle", "dx": -7, "fontSize": 31, "color": "#111"},
"encoding": {"x": {"field": "e", "type": "ordinal", "axis": null}, "y": {"field": "v", "type": "quantitative"}, "text": {"field": "t"}}
},
{
"data": {"values": [{"e": "Pb", "v": 773, "t": "Sample/ Primitive Mantle"}]},
"mark": {"type": "text", "align": "left", "baseline": "middle", "dx": 15, "fontSize": 14, "color": "#111"},
"encoding": {"x": {"field": "e", "type": "ordinal", "axis": null}, "y": {"field": "v", "type": "quantitative"}, "text": {"field": "t"}}
},
{
"data": {"values": [{"e": "Nb", "v": 76, "t": "OIB"}]},
"mark": {"type": "text", "align": "center", "baseline": "middle", "dx": 15, "fontSize": 13, "color": "#111"},
"encoding": {"x": {"field": "e", "type": "ordinal", "axis": null}, "y": {"field": "v", "type": "quantitative"}, "text": {"field": "t"}}
},
{
"data": {"values": [{"e": "Ba", "v": 6.5, "t": "E-MORB"}]},
"mark": {"type": "text", "align": "center", "baseline": "middle", "dx": -8, "fontSize": 13, "color": "#111"},
"encoding": {"x": {"field": "e", "type": "ordinal", "axis": null}, "y": {"field": "v", "type": "quantitative"}, "text": {"field": "t"}}
},
{
"data": {"values": [{"e": "La", "v": 3.07, "t": "N-MORB"}]},
"mark": {"type": "text", "align": "center", "baseline": "middle", "dx": 7, "angle": -12, "fontSize": 13, "color": "#111"},
"encoding": {"x": {"field": "e", "type": "ordinal", "axis": null}, "y": {"field": "v", "type": "quantitative"}, "text": {"field": "t"}}
}
]
},
{
"width": 601, "height": 430,
"resolve": {"scale": {"x": "independent", "y": "independent"}, "axis": {"x": "independent", "y": "independent"}},
"layer": [
{
"resolve": {"axis": {"x": "independent"}},
"layer": [
{
"data": {"name": "bF"},
"mark": {"type": "area", "clip": true},
"encoding": {
"x": {"field": "e", "type": "ordinal", "sort": ["La","Ce","Pr","Nd","Pm","Sm","Eu","Gd","Tb","Dy","Ho","Er","Tm","Yb","Lu"], "scale": {"type": "point", "padding": 0.52, "domain": ["La","Ce","Pr","Nd","Pm","Sm","Eu","Gd","Tb","Dy","Ho","Er","Tm","Yb","Lu"]},
  "axis": {"orient": "bottom", "values": ["Ce","Nd","Sm","Gd","Dy","Er","Yb"], "tickSize": 7, "labelPadding": 4, "labelAngle": 0, "title": null, "zindex": 1}},
"y": {"field": "hi", "type": "quantitative", "scale": {"type": "log", "domain": [1, 1000], "nice": false},
  "axis": {"orient": "left", "values": [1,2,3,4,5,6,7,8,9,10,20,30,40,50,60,70,80,90,100,200,300,400,500,600,700,800,900,1000], "labelExpr": "datum.value == 1 || datum.value == 10 || datum.value == 100 || datum.value == 1000 ? datum.value + '' : ''", "labelAngle": -90, "labelAlign": "center", "labelBaseline": "bottom", "tickSize": -7, "labelPadding": 15, "title": null, "grid": true, "gridDash": [1, 3], "gridColor": "#333", "gridOpacity": {"condition": {"test": "datum.value == 10 || datum.value == 100", "value": 1}, "value": 0}}},
"y2": {"field": "lo"},
"color": {"field": "g", "type": "nominal", "scale": {"domain": ["M","N","K","F"], "range": ["#e8461f","#5cbd1f","#4b2c97","#d4d4d4"]}, "legend": null}
}
},
{
"data": {"name": "bN"},
"mark": {"type": "line", "stroke": "#f0a51e", "strokeDash": [6, 3], "strokeWidth": 2.4, "clip": true},
"encoding": {"x": {"field": "e", "type": "ordinal", "sort": ["La","Ce","Pr","Nd","Pm","Sm","Eu","Gd","Tb","Dy","Ho","Er","Tm","Yb","Lu"], "axis": null}, "y": {"field": "v", "type": "quantitative"}}
},
{
"data": {"name": "bE"},
"mark": {"type": "line", "stroke": "#7a6a2a", "strokeDash": [6, 3], "strokeWidth": 2.4, "clip": true},
"encoding": {"x": {"field": "e", "type": "ordinal", "sort": ["La","Ce","Pr","Nd","Pm","Sm","Eu","Gd","Tb","Dy","Ho","Er","Tm","Yb","Lu"], "axis": null}, "y": {"field": "v", "type": "quantitative"}}
},
{
"data": {"name": "bS"},
"mark": {"type": "line", "strokeWidth": 1.3, "clip": true},
"encoding": {
"x": {"field": "e", "type": "ordinal", "sort": ["La","Ce","Pr","Nd","Pm","Sm","Eu","Gd","Tb","Dy","Ho","Er","Tm","Yb","Lu"],
  "axis": {"orient": "bottom", "values": ["La","Pr","Pm","Eu","Tb","Ho","Tm","Lu"], "tickSize": -7, "labelPadding": -16, "labelAngle": 0, "title": null, "zindex": 1}},
"y": {"field": "v", "type": "quantitative"},
"color": {"field": "g", "type": "nominal", "legend": null},
"detail": {"field": "s", "type": "nominal"}
}
},
{
"data": {"name": "bO"},
"mark": {"type": "line", "stroke": "black", "strokeDash": [6, 3], "strokeWidth": 2.4, "clip": true},
"encoding": {"x": {"field": "e", "type": "ordinal", "sort": ["La","Ce","Pr","Nd","Pm","Sm","Eu","Gd","Tb","Dy","Ho","Er","Tm","Yb","Lu"], "axis": null}, "y": {"field": "v", "type": "quantitative"}}
},
{
"data": {"values": [{"e": "La", "v": 725, "t": "B"}]},
"mark": {"type": "text", "align": "left", "baseline": "middle", "dx": -6, "fontSize": 31, "color": "#111"},
"encoding": {"x": {"field": "e", "type": "ordinal", "axis": null}, "y": {"field": "v", "type": "quantitative"}, "text": {"field": "t"}}
},
{
"data": {"values": [{"e": "Sm", "v": 773, "t": "Sample/ REE chondrite"}]},
"mark": {"type": "text", "align": "left", "baseline": "middle", "dx": -29, "fontSize": 14, "color": "#111"},
"encoding": {"x": {"field": "e", "type": "ordinal", "axis": null}, "y": {"field": "v", "type": "quantitative"}, "text": {"field": "t"}}
}
]
},
{
"layer": [
{
"data": {"name": "insbg"},
"mark": {"type": "rect", "fill": "white"},
"encoding": {
"x": {"field": "x0", "type": "quantitative", "scale": {"domain": [0, 8], "range": [383, 601], "nice": false, "zero": false},
  "axis": {"orient": "bottom", "offset": -234, "values": [0,2,4,6,8], "format": "d", "labelFlush": true, "tickSize": 5, "labelPadding": 2, "labelFontSize": 13, "labelColor": "#333", "domainColor": "#888", "tickColor": "#888", "zindex": 1,
    "title": "Sm/Yb", "titleX": 411, "titleY": -10, "titleAlign": "center", "titleBaseline": "middle", "titleFontSize": 16, "titleFontWeight": "normal", "titleColor": "#222", "titleFont": "Liberation Sans"}},
"x2": {"field": "x1"},
"y": {"field": "y0", "type": "quantitative", "scale": {"domain": [0, 8.1], "range": [196, 1], "nice": false, "zero": false},
  "axis": {"orient": "left", "offset": -383, "values": [0,2,4,6,8], "format": "d", "tickSize": 5, "labelPadding": 3, "labelFontSize": 13, "labelColor": "#333", "domainColor": "#888", "tickColor": "#888", "zindex": 1, "labelAngle": 0, "labelAlign": "right", "labelBaseline": "middle",
    "title": "La/Sm", "titleX": 12, "titleY": 30, "titleAngle": -90, "titleAlign": "center", "titleBaseline": "middle", "titleFontSize": 16, "titleFontWeight": "normal", "titleColor": "#222", "titleFont": "Liberation Sans"}},
"y2": {"field": "y1"}
}
},
{
"data": {"name": "ins"},
"mark": {"type": "circle", "size": 55, "opacity": 1, "stroke": "#333", "strokeWidth": 0.6},
"encoding": {
"x": {"field": "x", "type": "quantitative"},
"y": {"field": "y", "type": "quantitative"},
"color": {"field": "g", "type": "nominal", "legend": null}
}
}
]
}
]
}
]
}
